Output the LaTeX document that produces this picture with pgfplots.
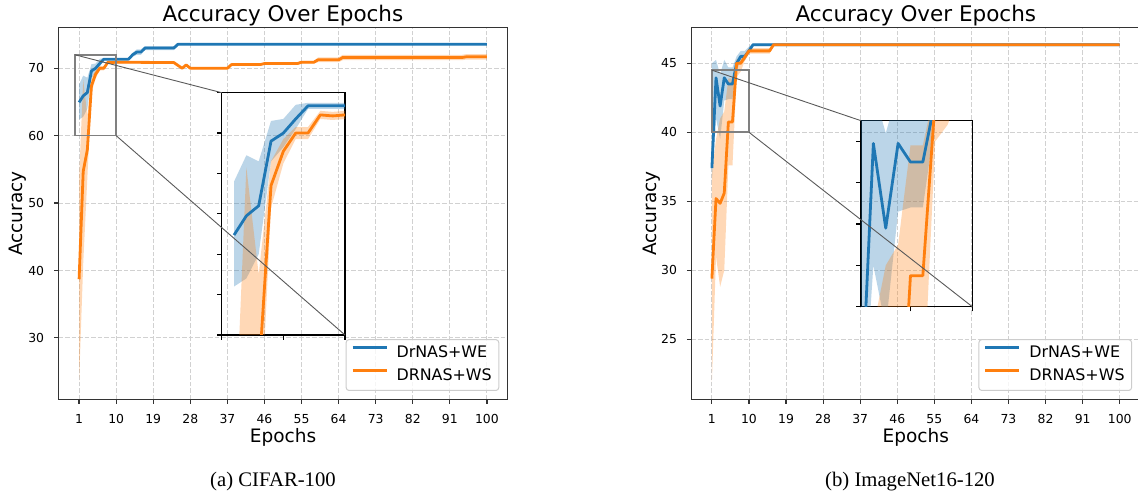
\documentclass[border=0pt]{standalone}
\usepackage{fontspec}
\usepackage{pgfplots}
\pgfplotsset{compat=1.18}
\usepackage{pgfplotstable}
\usepgfplotslibrary{fillbetween}
\newfontfamily\dv{DejaVu Sans}
\newfontfamily\capf{Liberation Serif}
\definecolor{cblue}{HTML}{1F77B4}
\definecolor{corange}{HTML}{FF7F0E}

% CIFAR-100
\pgfplotstableread{
x m lo hi
1 64.95 62.4 67.6
2 65.9 62.8 68.9
3 66.4 64.0 68.6
4 69.6 68.6 70.6
5 70.0 69.3 70.7
6 70.7 70.2 71.4
7 71.35 71.2 71.5
13 71.35 71.2 71.5
14 72.0 71.7 72.3
15 72.4 72.0 72.8
16 72.4 72.0 72.8
17 73.0 72.7 73.3
24 73.0 72.7 73.3
25 73.56 73.45 73.7
100 73.56 73.45 73.7
}\LB
\pgfplotstableread{
x m lo hi
1 38.7 23.5 53.7
2 54.7 41.0 68.3
3 57.9 53.7 63.0
4 67.4 66.3 68.6
5 69.1 68.5 69.7
6 70.0 69.7 70.3
7 70.0 69.7 70.3
8 70.9 70.7 71.1
9 70.85 70.65 71.05
10 70.9 70.7 71.1
24 70.85 70.7 71.0
26 70.0 69.85 70.15
27 70.5 70.35 70.65
28 70.0 69.85 70.15
37 70.0 69.85 70.15
38 70.55 70.4 70.7
45 70.55 70.4 70.7
46 70.7 70.55 70.85
54 70.7 70.55 70.85
55 70.9 70.7 71.1
58 70.9 70.7 71.1
59 71.25 70.9 71.6
64 71.25 70.9 71.6
65 71.6 71.2 72.0
94 71.6 71.2 72.0
95 71.7 71.3 72.1
100 71.7 71.3 72.1
}\LO
% ImageNet16-120
\pgfplotstableread{
x m lo hi
1 37.4 36.5 45.0
2 43.95 41.0 45.25
3 41.9 39.5 44.2
4 43.95 42.3 45.25
5 43.5 42.4 44.7
6 43.5 42.4 44.7
7 45.0 44.5 45.5
8 45.5 45.2 45.9
9 45.5 45.2 45.9
10 45.9 45.7 46.2
11 46.35 46.25 46.45
100 46.35 46.25 46.45
}\RB
\pgfplotstableread{
x m lo hi
1 29.4 21.9 37.0
2 35.2 31.0 39.5
3 34.85 28.8 41.0
4 35.6 30.0 41.5
5 40.75 37.6 43.9
6 40.75 37.6 43.9
7 45.0 44.0 45.3
8 45.0 44.4 45.3
9 45.45 45.2 45.7
10 45.9 45.7 46.1
15 45.9 45.7 46.1
16 46.35 46.3 46.4
100 46.35 46.3 46.4
}\RO

% band: table, colour, path id
\newcommand\band[3]{%
  \addplot[draw=none, forget plot, name path=#3u] table[x=x,y=hi]{#1};
  \addplot[draw=none, forget plot, name path=#3l] table[x=x,y=lo]{#1};
  \addplot[fill=#2, fill opacity=0.3, draw=none, forget plot] fill between[of=#3u and #3l];
}

\pgfplotsset{
  accax/.style={
    scale only axis, width=448.6pt, height=371.6pt,
    xmin=-3.95, xmax=104.95, xtick={1,10,...,100},
    grid=major, major grid style={black!18, line width=0.9pt, dash pattern=on 4.5pt off 2pt},
    axis line style={black!80, line width=1.2pt},
    tick align=outside, tick pos=left, major tick length=4.7pt,
    tick style={black!80, line width=1.2pt},
    /pgf/number format/assume math mode=true,
    tick label style={font=\dv\fontsize{12.4}{14}\selectfont, inner sep=0pt},
    xticklabel style={anchor=north, yshift=-10pt},
    yticklabel style={anchor=east, xshift=-9.7pt},
    title style={font=\dv\fontsize{21.5}{25}\selectfont, at={(axis description cs:0.5,1)}, anchor=base, yshift=0pt},
    label style={font=\dv\fontsize{18.5}{22}\selectfont},
    xlabel style={at={(axis description cs:0.5,0)}, anchor=base, yshift=-43.4pt},
    title={Accuracy Over Epochs}, xlabel={Epochs}, ylabel={Accuracy},
    legend style={at={(1,0)}, anchor=south east, xshift=-8pt, yshift=8.3pt,
      font=\dv\fontsize{15.9}{18}\selectfont, draw=black!20, line width=1pt, rounded corners=3pt,
      fill=white, fill opacity=0.8, draw opacity=1, text opacity=1,
      inner xsep=5pt, inner ysep=4.3pt, row sep=4.3pt, column sep=6.6pt,
      nodes={inner sep=2pt, text height=11.6pt, text depth=3.4pt}},
    legend cell align=left,
    legend image code/.code={\draw[##1, line width=2.8pt] (0pt,6pt) -- (34pt,6pt);},
  },
  insax/.style={
    scale only axis, axis background/.style={fill=white},
    axis line style={black, line width=1.2pt},
    tick align=outside, tick pos=left, major tick length=4.7pt,
    tick style={black, line width=1.2pt},
    xticklabels={}, yticklabels={},
  },
}

\begin{document}
\begin{tikzpicture}

% (a) CIFAR-100
\begin{axis}[accax, at={(58.7pt,103.7pt)}, anchor=south west,
  ymin=20.89, ymax=76.02, ytick={30,40,...,70},
  ylabel style={at={(axis description cs:-0.0918,0.5)}, anchor=center}]
\band{\LB}{cblue}{a1}
\band{\LO}{corange}{a2}
\addplot[cblue, line width=2.8pt, line join=round] table[x=x,y=m]{\LB};
\addlegendentry{DrNAS+WE}
\addplot[corange, line width=2.8pt, line join=round] table[x=x,y=m]{\LO};
\addlegendentry{DRNAS+WS}
\draw[black!50, line width=1.6pt] (axis cs:0,60) rectangle (axis cs:10,72);
\coordinate (aTL) at (axis cs:0,72);
\coordinate (aBR) at (axis cs:10,60);
\end{axis}

\begin{axis}[insax, name=ia, at={(221.7pt,168pt)}, anchor=south west,
  width=123.3pt, height=242.3pt, xmin=0, xmax=10, ymin=60, ymax=72,
  xtick={0,5,10}, ytick={60,62,...,72}]
\band{\LB}{cblue}{b1}
\band{\LO}{corange}{b2}
\addplot[cblue, line width=2.8pt, line join=round] table[x=x,y=m]{\LB};
\addplot[corange, line width=2.8pt, line join=round] table[x=x,y=m]{\LO};
\end{axis}
\draw[black!65, line width=0.9pt] (aTL) -- (ia.north west);
\draw[black!65, line width=0.9pt] (aBR) -- (ia.south east);

% (b) ImageNet16-120
\begin{axis}[accax, at={(691.5pt,103.7pt)}, anchor=south west,
  ymin=20.65, ymax=47.58, ytick={25,30,...,45},
  ylabel style={at={(axis description cs:-0.0887,0.5)}, anchor=center}]
\band{\RB}{cblue}{c1}
\band{\RO}{corange}{c2}
\addplot[cblue, line width=2.8pt, line join=round] table[x=x,y=m]{\RB};
\addlegendentry{DrNAS+WE}
\addplot[corange, line width=2.8pt, line join=round] table[x=x,y=m]{\RO};
\addlegendentry{DRNAS+WS}
\draw[black!50, line width=1.6pt] (axis cs:1,40) rectangle (axis cs:10,44.5);
\coordinate (bTL) at (axis cs:1,44.5);
\coordinate (bBR) at (axis cs:10,40);
\end{axis}

\begin{axis}[insax, name=ib, at={(861pt,196.3pt)}, anchor=south west,
  width=111.3pt, height=186pt, xmin=1, xmax=10, ymin=40, ymax=44.5,
  xtick={5,10}, ytick={40,41,...,44}]
\band{\RB}{cblue}{d1}
\band{\RO}{corange}{d2}
\addplot[cblue, line width=2.8pt, line join=round] table[x=x,y=m]{\RB};
\addplot[corange, line width=2.8pt, line join=round] table[x=x,y=m]{\RO};
\end{axis}
\draw[black!65, line width=0.9pt] (bTL) -- (ib.north west);
\draw[black!65, line width=0.9pt] (bBR) -- (ib.south east);

\node[font=\capf\fontsize{20.7}{24}\selectfont, anchor=base] at (273pt,16.3pt) {(a) CIFAR-100};
\node[font=\capf\fontsize{20.7}{24}\selectfont, anchor=base] at (910pt,16.3pt) {(b) ImageNet16-120};

\pgfresetboundingbox
\useasboundingbox (0pt,0pt) rectangle (1138pt,503pt);
\end{tikzpicture}
\end{document}
